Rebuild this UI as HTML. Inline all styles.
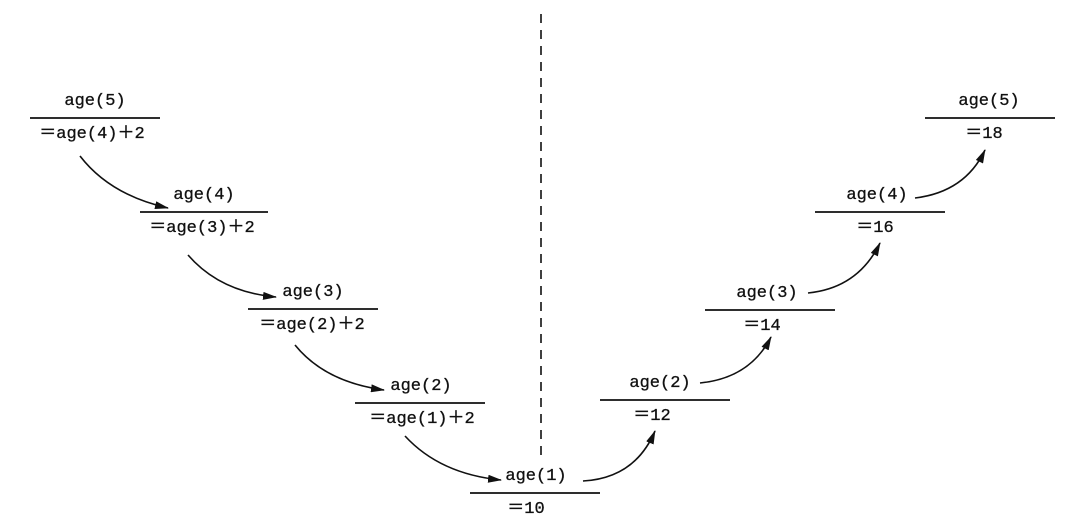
<!DOCTYPE html>
<html><head><meta charset="utf-8"><style>
html,body{margin:0;padding:0;background:#fff;}
svg{display:block;}
text{font-family:"Liberation Mono","Noto Sans CJK SC",monospace;font-size:17px;fill:#111;text-anchor:middle;stroke:#111;stroke-width:0.3;}
</style></head><body>
<svg width="1087" height="523" viewBox="0 0 1087 523">
<defs><marker id="ah" markerWidth="14" markerHeight="8" refX="13" refY="4" orient="auto" markerUnits="userSpaceOnUse"><path d="M0,0 L14,4 L0,8 Z" fill="#111"/></marker></defs>
<line x1="541" y1="14" x2="541" y2="455" stroke="#111" stroke-width="1.6" stroke-dasharray="9,7"/>
<g id="blocks"></g>
<g id="arrows" fill="none" stroke="#111" stroke-width="1.6"></g>
</svg>
<script>
const ns='http://www.w3.org/2000/svg';
const blocks=[
 [30,160,118,'age(5)','＝age(4)＋2','left-age5'],
 [140,268,212,'age(4)','＝age(3)＋2','left-age4'],
 [248,378,309,'age(3)','＝age(2)＋2','left-age3'],
 [355,485,403,'age(2)','＝age(1)＋2','left-age2'],
 [470,600,493,'age(1)','＝10','age1'],
 [600,730,400,'age(2)','＝12','right-age2'],
 [705,835,310,'age(3)','＝14','right-age3'],
 [815,945,212,'age(4)','＝16','right-age4'],
 [925,1055,118,'age(5)','＝18','right-age5']
];
const topX=[95,204,313,421,536,660,767,877,989];
const botX=[92,202,312,422,526,652,762,875,984];
const g=document.getElementById('blocks');
blocks.forEach((b,i)=>{
 const grp=document.createElementNS(ns,'g');
 
 
 const l=document.createElementNS(ns,'line');
 l.setAttribute('x1',b[0]);l.setAttribute('x2',b[1]);l.setAttribute('y1',b[2]);l.setAttribute('y2',b[2]);
 l.setAttribute('stroke','#111');l.setAttribute('stroke-width','1.8');
 
 
 grp.appendChild(l);
 const t=document.createElementNS(ns,'text');
 t.setAttribute('x',topX[i]);t.setAttribute('y',b[2]-13);t.textContent=b[3];
 
 
 grp.appendChild(t);
 const t2=document.createElementNS(ns,'text');
 t2.setAttribute('x',botX[i]);t2.setAttribute('y',b[2]+20);t2.textContent=b[4];
 
 
 grp.appendChild(t2);
 g.appendChild(grp);
});
const arrows=[
 [80,156,110,195,168,208],
 [188,255,220,292,276,297],
 [295,345,325,382,384,390],
 [405,436,440,474,501,480],
 [583,481,635,478,655,431],
 [700,383,750,378,771,337],
 [808,293,858,288,880,243],
 [915,198,965,192,985,150]
];
const ag=document.getElementById('arrows');
arrows.forEach(a=>{
 const p=document.createElementNS(ns,'path');
 p.setAttribute('d',`M${a[0]},${a[1]} Q${a[2]},${a[3]} ${a[4]},${a[5]}`);
 p.setAttribute('marker-end','url(#ah)');
 
 
 ag.appendChild(p);
});
</script>
</body></html>
